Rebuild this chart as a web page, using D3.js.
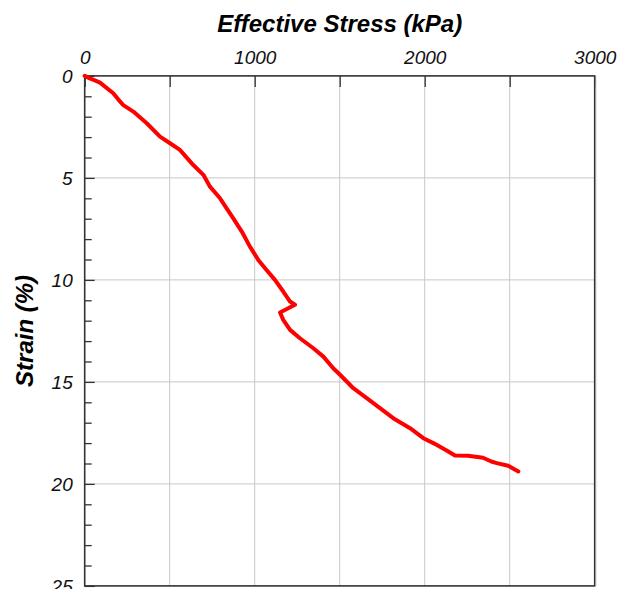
<!DOCTYPE html>
<html>
<head>
<meta charset="utf-8">
<script src="https://cdn.jsdelivr.net/npm/d3@7"></script>
<style>
  body { margin: 0; background: #fff; }
  svg { display: block; font-family: "Liberation Sans", Arial, sans-serif; }
</style>
</head>
<body>
<svg width="632" height="589"></svg>
<script>
// stress (kPa) vs strain (%)
var stress = [0, 30, 60, 90, 168, 197, 227, 286, 365, 443, 502, 560, 639, 698, 737, 796, 835,
              874, 924, 972, 1021, 1061, 1119, 1168, 1208, 1237, 1149, 1168, 1208, 1266, 1345,
              1404, 1462, 1502, 1580, 1659, 1737, 1815, 1914, 1992, 2051, 2129, 2178, 2255,
              2343, 2392, 2424, 2491, 2551]
var strain = [0, 0.12, 0.22, 0.33, 0.85, 1.15, 1.43, 1.75, 2.32, 2.98, 3.30, 3.63, 4.37, 4.85, 5.43, 6.0, 6.49,
              6.98, 7.63, 8.37, 9.02, 9.43, 10.0, 10.57, 11.06, 11.22, 11.60, 11.96, 12.45, 12.86, 13.35,
              13.76, 14.33, 14.65, 15.31, 15.80, 16.29, 16.78, 17.27, 17.76, 18.0, 18.36, 18.61, 18.62,
              18.72, 18.90, 18.98, 19.11, 19.39]

var xTicks = [0, 1000, 2000, 3000]
var yTicks = [0, 5, 10, 15, 20, 25]

var margin = { left: 84.7, top: 75.9 }
  , w = 510
  , h = 510

var svg = d3.select('svg')
var g = svg.append('g').attr('transform', 'translate(' + margin.left + ',' + margin.top + ')')

var x = d3.scaleLinear().domain([0, 3000]).range([0, w])
  , y = d3.scaleLinear().domain([0, 25]).range([0, h])

// grid
g.selectAll('.gx').data(d3.range(500, 3000, 500)).enter().append('line')
  .attr('x1', x).attr('x2', x).attr('y1', 0).attr('y2', h)
  .attr('stroke', '#c8c8c8').attr('stroke-width', 1)
g.selectAll('.gy').data(d3.range(5, 25, 5)).enter().append('line')
  .attr('y1', y).attr('y2', y).attr('x1', 0).attr('x2', w)
  .attr('stroke', '#c8c8c8').attr('stroke-width', 1)

// axes: ticks inside
var xAxis = d3.axisTop(x).tickValues(d3.range(0, 3001, 500)).tickSize(-11)
  .tickFormat(function (d) { return xTicks.indexOf(d) >= 0 ? d : '' })
var gt = g.append('g').call(xAxis)
gt.select('.domain').remove()
gt.selectAll('.tick line').attr('stroke', '#333').attr('stroke-width', 1.3)
gt.selectAll('.tick text').attr('y', -12).attr('dy', 0)

var yAxis = d3.axisLeft(y).tickValues(d3.range(0, 26, 1)).tickSize(-7)
  .tickFormat(function (d) { return yTicks.indexOf(d) >= 0 ? d : '' })
var gl = g.append('g').call(yAxis)
gl.select('.domain').remove()
gl.selectAll('.tick line').attr('stroke', '#333').attr('stroke-width', 1.3)
  .attr('x2', function (d) { return d % 5 ? 7 : 10 })
gl.selectAll('.tick text').attr('x', -12).attr('dy', '0.34em')

g.selectAll('.tick text').attr('fill', '#111')
  .style('font-size', '19px').style('font-style', 'italic')
  .style('font-family', '"Liberation Sans", Arial, sans-serif')

// frame
g.append('rect').attr('width', w).attr('height', h)
  .attr('fill', 'none').attr('stroke', '#333').attr('stroke-width', 1.6)
g.append('line').attr('x1', w + 1).attr('x2', w + 1).attr('y1', 0).attr('y2', h)
  .attr('stroke', '#999').attr('stroke-width', 1)

// curve
var line = d3.line().x(function (d) { return x(d[0]) }).y(function (d) { return y(d[1]) })
g.append('path').datum(d3.zip(stress, strain))
  .attr('d', line)
  .attr('fill', 'none').attr('stroke', '#ff0000').attr('stroke-width', 4)
  .attr('stroke-linejoin', 'round').attr('stroke-linecap', 'round')

// titles
svg.append('text').attr('x', margin.left + w / 2).attr('y', 32)
  .attr('text-anchor', 'middle')
  .style('font-size', '24px').style('font-weight', 'bold').style('font-style', 'italic')
  .text('Effective Stress (kPa)')
svg.append('text').attr('transform', 'translate(33,' + (margin.top + h / 2) + ') rotate(-90)')
  .attr('text-anchor', 'middle')
  .style('font-size', '24px').style('font-weight', 'bold').style('font-style', 'italic')
  .text('Strain (%)')
</script>
</body>
</html>
